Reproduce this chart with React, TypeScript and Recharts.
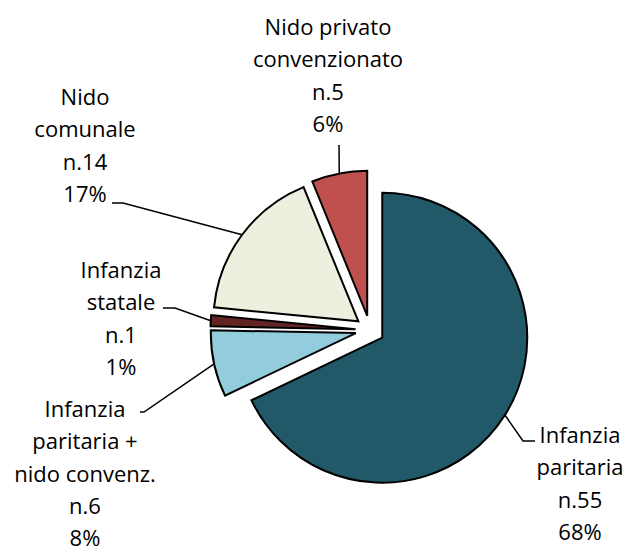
import { PieChart, Pie, Sector } from 'recharts'

const CATEGORIES = [
  'Infanzia paritaria',
  'Infanzia paritaria + nido convenz.',
  'Infanzia statale',
  'Nido comunale',
  'Nido privato convenzionato',
]
const COUNTS = [55, 6, 1, 14, 5]
const PERCENT_LABELS = ['68%', '8%', '1%', '17%', '6%']
// how the category names wrap in the labels
const NAME_LINES = [
  ['Infanzia', 'paritaria'],
  ['Infanzia', 'paritaria +', 'nido convenz.'],
  ['Infanzia', 'statale'],
  ['Nido', 'comunale'],
  ['Nido privato', 'convenzionato'],
]

const COLORS = ['#215968', '#93CDDD', '#632523', '#EBF1DE', '#C0504D']
const EXPLODE = 14.5
const LINE_H = 32.3
const FONT = { fontFamily: '"Open Sans", sans-serif', fontSize: 22 }

// label placement relative to pie centre: text centre x, first line centre y, leader points
const LAYOUT = [
  { tx: 210, ty: 105, leader: [[153, 111], [165, 111]] },
  { tx: -285, ty: 79, leader: [[-226, 82], [-230, 82]] },
  { tx: -249, ty: -60, leader: [[-195, -22], [-207, -22]] },
  { tx: -285, ty: -233, leader: [[-247, -127], [-258, -127]] },
  { tx: -42, ty: -303, leader: [[-31, -185]] },
]

const RAD = Math.PI / 180
function polar(cx: number, cy: number, r: number, angle: number) {
  return [cx + r * Math.cos(-angle * RAD), cy + r * Math.sin(-angle * RAD)]
}

function renderSlice(props: any) {
  const { cx, cy, midAngle, startAngle, endAngle, outerRadius, index } = props
  const [ox, oy] = polar(cx, cy, EXPLODE, midAngle)
  const [ax, ay] = polar(ox, oy, outerRadius, midAngle)
  const lay = LAYOUT[index]
  const pts = [[ax, ay], ...lay.leader.map(([dx, dy]) => [cx + dx, cy + dy])]
  const d = pts.map((p, i) => `${i ? 'L' : 'M'}${p[0]},${p[1]}`).join(' ')
  const lines = [...NAME_LINES[index], `n.${COUNTS[index]}`, PERCENT_LABELS[index]]
  return (
    <g key={`slice-${index}`}>
      <Sector
        cx={ox}
        cy={oy}
        innerRadius={0}
        outerRadius={outerRadius}
        startAngle={startAngle}
        endAngle={endAngle}
        fill={COLORS[index]}
        stroke="#000"
        strokeWidth={2}
      />
      <path d={d} stroke="#000" strokeWidth={1.5} fill="none" />
      <text textAnchor="middle" fill="#000" {...FONT}>
        {lines.map((t, i) => (
          <tspan key={i} x={cx + lay.tx} y={cy + lay.ty + i * LINE_H + 8}>
            {t}
          </tspan>
        ))}
      </text>
    </g>
  )
}

export default function App() {
  const data = CATEGORIES.map((name, i) => ({ name, value: COUNTS[i] }))
  return (
    <div style={{ position: 'fixed', left: 0, top: 0, background: '#fff' }}>
      <PieChart width={628} height={554} margin={{ top: 0, right: 0, bottom: 0, left: 0 }}>
        <Pie
          data={data}
          dataKey="value"
          nameKey="name"
          cx={370}
          cy={330}
          outerRadius={145}
          startAngle={90}
          endAngle={-270}
          fill="none"
          stroke="none"
          label={renderSlice}
          labelLine={false}
          isAnimationActive={false}
        />
      </PieChart>
    </div>
  )
}
